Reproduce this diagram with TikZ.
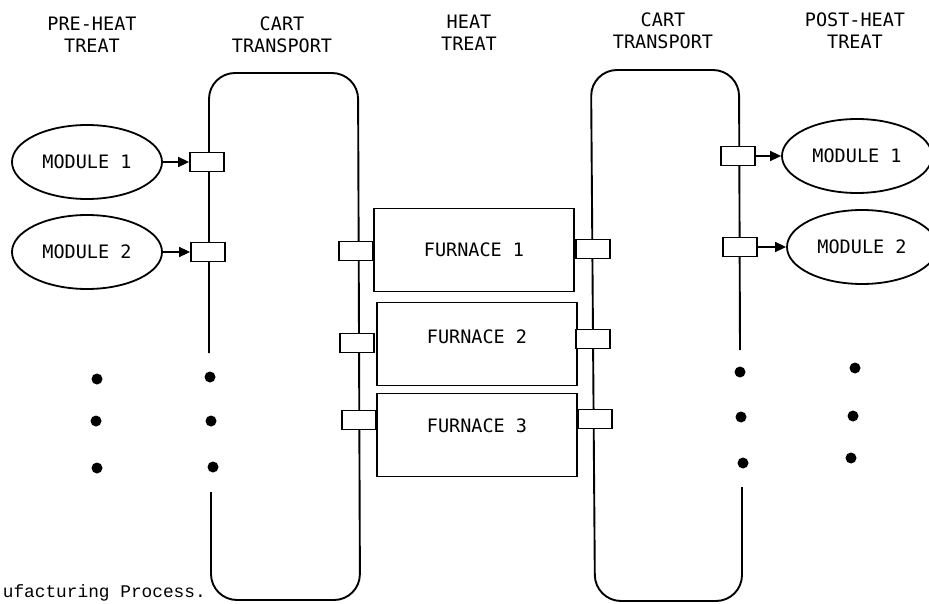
\documentclass[tikz,border=0pt]{standalone}
\usepackage{fontspec}
\newfontfamily\labelfont{DejaVu Sans Mono}
\newfontfamily\captionfont{Liberation Mono}
\usetikzlibrary{shapes.geometric,arrows.meta}

\begin{document}
\begin{tikzpicture}[x=1pt,y=-1pt,
    every node/.style={font=\labelfont\fontsize{18.5}{22}\selectfont},
    header/.style={align=center},
    module/.style={draw,ellipse,line width=1.8pt,minimum width=150pt,minimum height=74pt,inner sep=0pt},
    slot/.style={draw,fill=white,line width=1.8pt,minimum width=34pt,minimum height=19pt,inner sep=0pt},
    furnace/.style={draw,line width=1.8pt,minimum width=200pt,minimum height=83pt,inner sep=0pt},
    blob/.style={circle,fill=black,minimum size=11pt,inner sep=0pt},
    track/.style={line width=1.9pt,rounded corners=26pt},
    feed/.style={line width=1.6pt,-{Triangle[length=11pt,width=10pt]}}]
    \useasboundingbox (0,0) rectangle (929,604);

    % column titles
    \node[header] (preheat) at (92,35) {PRE-HEAT\\TREAT};
    \node[header] (cartin) at (282,35) {CART\\TRANSPORT};
    \node[header] (heat) at (469,33) {HEAT\\TREAT};
    \node[header] (cartout) at (663,31) {CART\\TRANSPORT};
    \node[header] (postheat) at (855,31) {POST-HEAT\\TREAT};

    % cart loops
    \draw[track] (209,353) -- (209,73) -- (358,73) -- (360,600) -- (211,600) -- (211,492);
    \draw[track] (740,350) -- (739,70) -- (591,70) -- (595,601) -- (742,601) -- (742,487);

    % furnaces
    \node[furnace] (furn1) at (474,250) {FURNACE 1};
    \node[furnace,text depth=14pt] (furn2) at (477,344) {FURNACE 2};
    \node[furnace,text depth=18pt] (furn3) at (477,435) {FURNACE 3};

    % modules
    \node[module] (pre1) at (87,162) {MODULE 1};
    \node[module] (pre2) at (87,252) {MODULE 2};
    \node[module] (post1) at (857,156) {MODULE 1};
    \node[module] (post2) at (862,247) {MODULE 2};

    % carts on the loops
    \node[slot] (in1) at (207,162) {};
    \node[slot] (in2) at (208,252) {};
    \node[slot] (la1) at (356,251) {};
    \node[slot] (la2) at (357,343) {};
    \node[slot] (la3) at (359,420) {};
    \node[slot] (lb1) at (593,249) {};
    \node[slot] (lb2) at (593,339) {};
    \node[slot] (lb3) at (595,419) {};
    \node[slot] (out1) at (738,156) {};
    \node[slot] (out2) at (740,247) {};

    \draw[feed] (pre1) -- (in1);
    \draw[feed] (pre2) -- (in2);
    \draw[feed] (out1) -- (post1);
    \draw[feed] (out2) -- (post2);

    % more of the same
    \foreach \x/\y [count=\i] in {97/379,96/421,97/468} \node[blob] (dpre\i) at (\x,\y) {};
    \foreach \x/\y [count=\i] in {210/377,211/421,213/467} \node[blob] (dcin\i) at (\x,\y) {};
    \foreach \x/\y [count=\i] in {740/372,741/417,743/463} \node[blob] (dcout\i) at (\x,\y) {};
    \foreach \x/\y [count=\i] in {855/368,853/416,851/458} \node[blob] (dpost\i) at (\x,\y) {};

    \node[font=\captionfont\fontsize{17.8}{20}\selectfont,anchor=base east,inner sep=0pt] (caption) at (206,597) {ufacturing Process.};
\end{tikzpicture}
\end{document}
